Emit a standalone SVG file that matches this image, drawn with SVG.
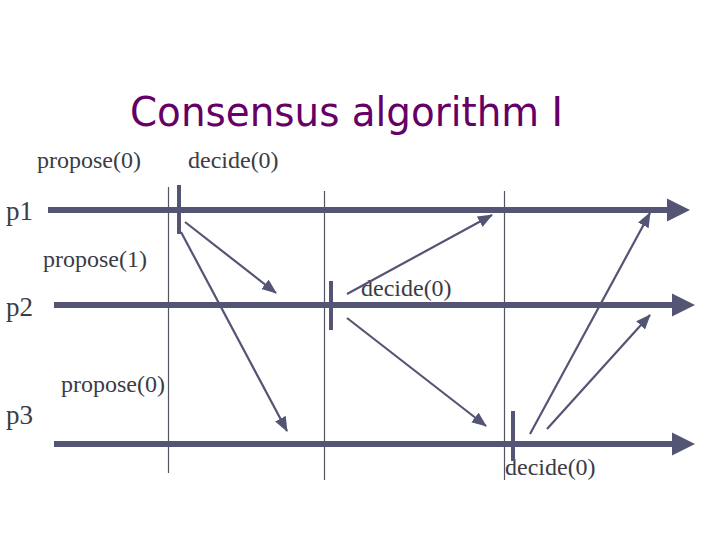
<svg xmlns="http://www.w3.org/2000/svg" width="720" height="540" viewBox="0 0 720 540">
<style>
.t{font-family:"Liberation Serif","Times New Roman",serif;font-size:24px;fill:#3c3c44}
.lbl{font-family:"Liberation Serif","Times New Roman",serif;font-size:27px;fill:#3c3c44}
.title{font-family:"DejaVu Sans",Verdana,sans-serif;font-size:40px;fill:#660066}
.tl{stroke:#545474;stroke-width:6}
.grid{stroke:#555560;stroke-width:1.2}
.tick{stroke:#545474;stroke-width:4}
.msg{stroke:#545474;stroke-width:2.2;fill:none;marker-end:url(#ah)}
</style>
<defs>
<marker id="ah" markerUnits="userSpaceOnUse" markerWidth="18" markerHeight="14" refX="14" refY="6" orient="auto">
<path d="M0,0 L15,6 L0,12 Z" fill="#545474"/>
</marker>
</defs>
<rect width="720" height="540" fill="#ffffff"/>
<text class="title" x="130" y="126" textLength="433" lengthAdjust="spacingAndGlyphs">Consensus algorithm I</text>
<g id="grid">
<line class="grid" x1="168.5" y1="187" x2="168.5" y2="473"/>
<line class="grid" x1="324.5" y1="191" x2="324.5" y2="480"/>
<line class="grid" x1="504.5" y1="191" x2="504.5" y2="480"/>
</g>
<g id="p1">
<text class="lbl" x="6" y="220">p1</text>
<line class="tl" x1="48" y1="210" x2="670" y2="210"/>
<path d="M667,198.5 L690,210 L667,221.5 Z" fill="#545474"/>
<text class="t" x="37" y="168">propose(0)</text>
<text class="t" x="188" y="168">decide(0)</text>
<line class="tick" x1="179" y1="185" x2="179" y2="234"/>
</g>
<g id="p2">
<text class="lbl" x="6" y="316">p2</text>
<line class="tl" x1="54" y1="305" x2="675" y2="305"/>
<path d="M672,293.5 L695,305 L672,316.5 Z" fill="#545474"/>
<text class="t" x="43" y="267">propose(1)</text>
<text class="t" x="361" y="296">decide(0)</text>
<line class="tick" x1="331" y1="281" x2="331" y2="330"/>
</g>
<g id="p3">
<text class="lbl" x="6" y="424">p3</text>
<line class="tl" x1="54" y1="444" x2="675" y2="444"/>
<path d="M672,432.5 L695,444 L672,455.5 Z" fill="#545474"/>
<text class="t" x="61" y="392">propose(0)</text>
<text class="t" x="505" y="475">decide(0)</text>
<line class="tick" x1="513" y1="411" x2="513" y2="461"/>
</g>
<g id="connectors">
<line class="msg" x1="185" y1="222" x2="276" y2="293"/>
<line class="msg" x1="181" y1="232" x2="287" y2="431"/>
<line class="msg" x1="347" y1="294" x2="492" y2="215"/>
<line class="msg" x1="347" y1="318" x2="486" y2="426"/>
<line class="msg" x1="530" y1="434" x2="650" y2="213"/>
<line class="msg" x1="547" y1="429" x2="650" y2="315"/>
</g>
</svg>
